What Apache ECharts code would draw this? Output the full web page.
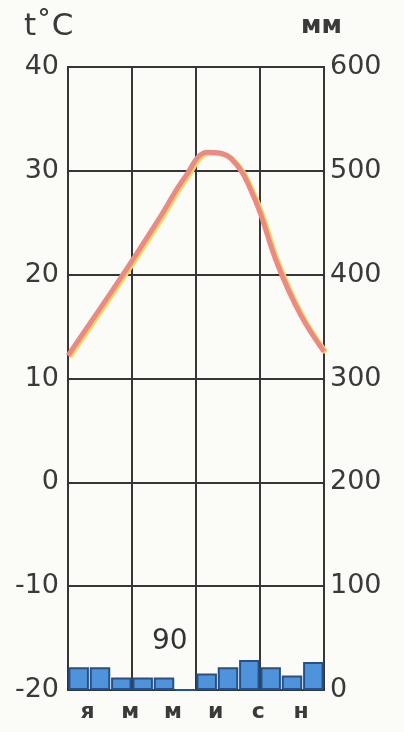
<!DOCTYPE html>
<html>
<head>
<meta charset="utf-8">
<script src="https://cdn.jsdelivr.net/npm/echarts@6/dist/echarts.min.js"></script>
<style>
  html, body { margin: 0; padding: 0; background: #fbfbf8; }
  #chart { width: 404px; height: 732px; }
</style>
</head>
<body>
<div id="chart"></div>
<script>
// months (Russian initials), only every second one is shown
var months = ["я", "ф", "м", "а", "м", "и", "и", "а", "с", "о", "н", "д"];
// mean monthly temperature, °C
var temps = [12.2, 15.5, 18.8, 22.2, 25.7, 29.3, 31.8, 31.2, 27.4, 21.0, 16.1, 12.6];
// monthly precipitation, mm
var precip = [22, 22, 12, 12, 12, 0, 16, 22, 29, 22, 14, 27];
var annualTotal = "90";

var chart = echarts.init(document.getElementById("chart"));
var frame = "#363636";

chart.setOption({
  backgroundColor: "#fbfbf8",
  animation: false,
  grid: {
    left: 68,
    right: 80,
    top: 67,
    bottom: 42,
    show: true,
    borderColor: frame,
    borderWidth: 2,
    backgroundColor: "transparent"
  },
  graphic: [
    {
      type: "text",
      left: 24,
      top: 11,
      style: { text: "t˚C", fontSize: 31, fontFamily: "DejaVu Sans", fill: "#3a3a3a" }
    },
    {
      type: "text",
      left: 301,
      top: 14,
      style: { text: "мм", fontSize: 25, fontWeight: "bold", fontFamily: "DejaVu Sans", fill: "#3a3a3a" }
    },
    {
      type: "text",
      left: 152,
      top: 628,
      style: { text: annualTotal, fontSize: 28, fontFamily: "DejaVu Sans", fill: "#333" }
    }
  ],
  xAxis: [
    {
      // bars: one band per month
      type: "category",
      data: months,
      boundaryGap: true,
      axisLine: { show: false },
      axisTick: { show: false },
      axisLabel: {
        interval: 1,
        margin: 11,
        padding: [0, 0, 0, 18],
        fontSize: 22,
        fontWeight: "bold",
        fontFamily: "DejaVu Sans",
        color: "#3a3a3a"
      },
      splitLine: { show: true, interval: 2, lineStyle: { color: frame, width: 2 } }
    },
    {
      // temperature curve runs edge to edge
      type: "category",
      data: months,
      boundaryGap: false,
      show: false
    }
  ],
  yAxis: [
    {
      type: "value",
      min: -20,
      max: 40,
      interval: 10,
      position: "left",
      axisLine: { show: false },
      axisTick: { show: false },
      axisLabel: { margin: 9, fontSize: 27, fontFamily: "DejaVu Sans", color: "#3a3a3a" },
      splitLine: { show: true, lineStyle: { color: frame, width: 2 } }
    },
    {
      type: "value",
      min: 0,
      max: 600,
      interval: 100,
      position: "right",
      axisLine: { show: false },
      axisTick: { show: false },
      axisLabel: { margin: 6, fontSize: 27, fontFamily: "DejaVu Sans", color: "#3a3a3a" },
      splitLine: { show: false }
    }
  ],
  series: [
    {
      type: "bar",
      xAxisIndex: 0,
      yAxisIndex: 1,
      data: precip,
      barCategoryGap: "4%",
      itemStyle: { color: "#4f93da", borderColor: "#24508c", borderWidth: 2 }
    },
    {
      type: "line",
      xAxisIndex: 1,
      yAxisIndex: 0,
      data: temps,
      smooth: 0.4,
      symbol: "none",
      lineStyle: {
        color: "#e98a84",
        width: 5,
        shadowColor: "#f6d35c",
        shadowBlur: 0,
        shadowOffsetX: 2,
        shadowOffsetY: 1
      }
    }
  ]
});
</script>
</body>
</html>
